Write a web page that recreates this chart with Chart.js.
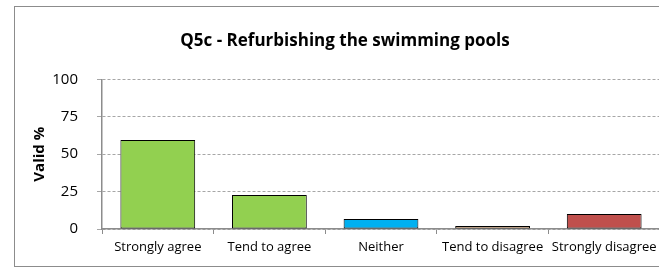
<!DOCTYPE html>
<html>
<head>
<meta charset="utf-8">
<script src="https://cdn.jsdelivr.net/npm/chart.js@4/dist/chart.umd.min.js"></script>
<style>
  html, body { margin: 0; padding: 0; background: #fff; width: 659px; height: 268px; overflow: hidden; }
  body { position: relative; }
  #frame { position: absolute; left: 14px; top: 6px; width: 660px; height: 259px; border: 1px solid #8c8c8c; border-right: none; }
  #wrap { position: absolute; left: 0; top: 0; width: 662px; height: 268px; }
</style>
</head>
<body>
<div id="frame"></div>
<div id="wrap"><canvas id="c" width="662" height="268"></canvas></div>
<script>
const chartTitle = "Q5c - Refurbishing the swimming pools";
const axisTitle = "Valid %";
const categories = ["Strongly agree", "Tend to agree", "Neither", "Tend to disagree", "Strongly disagree"];
const values = [59.5, 22.7, 6.7, 2.0, 10.0];
const barColors = ["#92D050", "#92D050", "#00B0F0", "#F5C08E", "#C0504D"];
const yTicks = [0, 25, 50, 75, 100];

const FONT = "'Open Sans', sans-serif";

new Chart(document.getElementById('c'), {
  type: 'bar',
  data: {
    labels: categories,
    datasets: [{
      data: values,
      backgroundColor: barColors,
      borderColor: '#000000',
      borderWidth: 1,
      borderSkipped: false,
      categoryPercentage: 1.0,
      barPercentage: 0.67
    }]
  },
  options: {
    responsive: false,
    animation: false,
    layout: { padding: { left: 30, right: 2, top: 0, bottom: 9 } },
    plugins: {
      legend: { display: false },
      tooltip: { enabled: false },
      title: {
        display: true,
        text: chartTitle,
        color: '#000',
        font: { family: FONT, size: 17, weight: 'bold' },
        padding: { top: 31, bottom: 28 }
      }
    },
    scales: {
      x: {
        grid: { display: true, drawOnChartArea: false, drawTicks: true, tickLength: 5, color: '#8c8c8c', offset: true },
        border: { display: true, color: '#8c8c8c', width: 1.5 },
        ticks: { color: '#000', font: { family: FONT, size: 13 }, padding: 5, maxRotation: 0, autoSkip: false },
        afterFit: s => { s.height = 30; }
      },
      y: {
        min: 0, max: 100,
        afterBuildTicks: s => { s.ticks = yTicks.map(v => ({ value: v })); },
        grid: { color: '#a6a6a6', tickLength: 5, lineWidth: 1 },
        border: { display: true, color: '#8c8c8c', width: 1.5, dash: [3, 2] },
        ticks: { color: '#000', font: { family: FONT, size: 15 }, padding: 19 },
        title: {
          display: true, text: axisTitle, color: '#000',
          font: { family: FONT, size: 15, weight: 'bold' },
          padding: { top: 1, bottom: 0 }
        },
        afterFit: s => { s.width = 72; }
      }
    }
  }
});
</script>
</body>
</html>
